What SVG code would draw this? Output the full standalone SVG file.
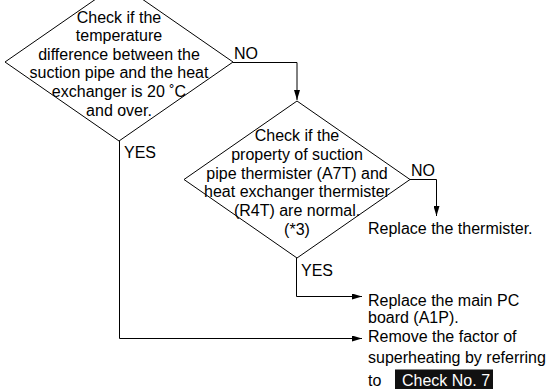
<svg xmlns="http://www.w3.org/2000/svg" width="546" height="389" viewBox="0 0 546 389">
<style>
.sh{fill:#fff;stroke:#000;stroke-width:1}
.t{font-family:"Liberation Sans",Arial,sans-serif;font-size:16px;fill:#000}
.c{text-anchor:middle}
.r{font-size:16px}
.ln{fill:none;stroke:#000;stroke-width:1}
</style>
<defs>
<marker id="ah" viewBox="0 0 10 6" refX="10" refY="3" markerWidth="10" markerHeight="6" markerUnits="userSpaceOnUse" orient="auto">
<path d="M0,0 L10,3 L0,6 Z" fill="#000"/>
</marker>
</defs>
<rect width="546" height="389" fill="#fff"/>
<g id="connectors">
<polyline class="ln" points="233,62.5 297,62.5 297,100" marker-end="url(#ah)"/>
<polyline class="ln" points="410,179.5 436.5,179.5 436.5,216" marker-end="url(#ah)"/>
<polyline class="ln" points="296.5,258 296.5,296.5 362,296.5" marker-end="url(#ah)"/>
<polyline class="ln" points="119.5,141 119.5,338.5 362,338.5" marker-end="url(#ah)"/>
<text class="t" x="234" y="58.5">NO</text>
<text class="t" x="411" y="175.5">NO</text>
<text class="t" x="124" y="157.5">YES</text>
<text class="t" x="301" y="275.5">YES</text>
</g>
<g id="decision1">
<polygon class="sh" points="119,-17 233,62 119,141 5,62"/>
<text class="t c" x="119" y="22.5">Check if the</text>
<text class="t c" x="119" y="41.1">temperature</text>
<text class="t c" x="119" y="59.7">difference between the</text>
<text class="t c" x="119" y="78.3">suction pipe and the heat</text>
<text class="t c" x="119" y="96.9">exchanger is 20 ˚C</text>
<text class="t c" x="119" y="115.5">and over.</text>
</g>
<g id="decision2">
<polygon class="sh" points="297,101 410,179.5 297,258 184,179.5"/>
<text class="t c" x="297" y="141">Check if the</text>
<text class="t c" x="297" y="159.8">property of suction</text>
<text class="t c" x="297" y="178.6">pipe thermister (A7T) and</text>
<text class="t c" x="297" y="197.4">heat exchanger thermister</text>
<text class="t c" x="297" y="216.2">(R4T) are normal.</text>
<text class="t c" x="297" y="235">(*3)</text>
</g>
<g id="replace-thermister">
<text class="t r" x="368" y="234">Replace the thermister.</text>
</g>
<g id="replace-pcb">
<text class="t r" x="368" y="306">Replace the main PC</text>
<text class="t r" x="368" y="322.5">board (A1P).</text>
</g>
<g id="remove-factor">
<text class="t r" x="368" y="342">Remove the factor of</text>
<text class="t r" x="368" y="362.5">superheating by referring</text>
<text class="t r" x="368" y="386">to</text>
<rect x="395" y="369.5" width="98" height="20" fill="#111"/>
<text class="t r" x="402" y="385.5" style="fill:#fff">Check No. 7</text>
</g>
</svg>
